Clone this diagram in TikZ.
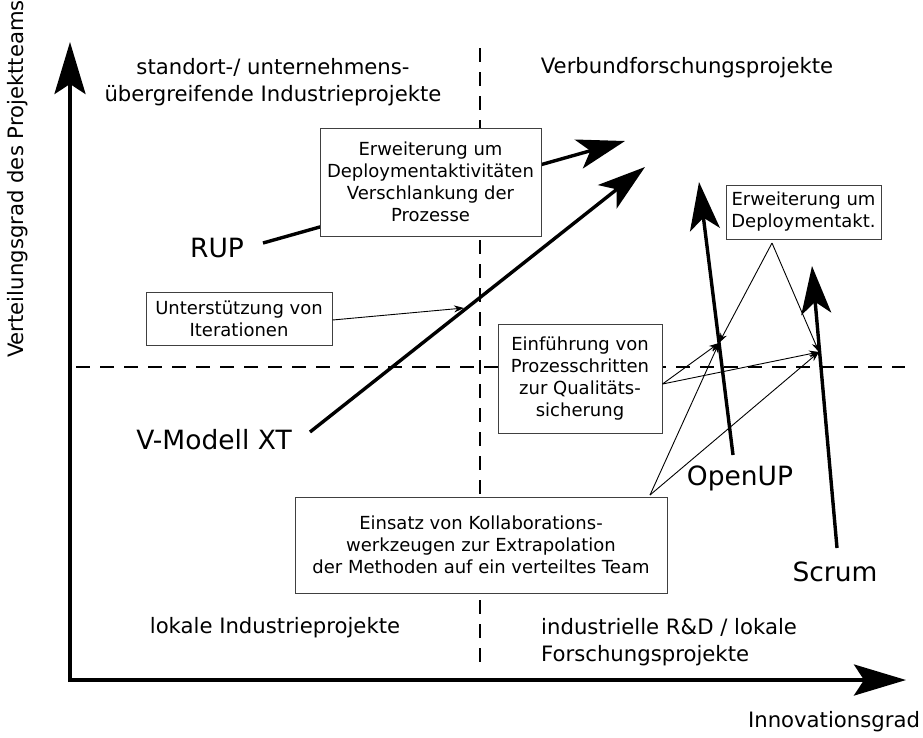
\documentclass[tikz,border=0pt]{standalone}
\usepackage{fontspec}
\setmainfont{DejaVu Sans}
\usetikzlibrary{arrows.meta}
\begin{document}
\begin{tikzpicture}[x=1pt,y=-1pt,
  quad/.style={inner sep=0pt, font=\fontsize{21.2}{27.5}\selectfont},
  method/.style={inner sep=0pt, font=\fontsize{26.5}{30}\selectfont},
  note/.style={draw=black!75, line width=1pt, fill=white, inner sep=0pt,
    align=center, font=\fontsize{18}{22}\selectfont},
  axis/.style={line width=3.8pt, -{Stealth[length=52pt,width=31pt,inset=10pt]}},
  trend/.style={line width=3.4pt, -{Stealth[length=48pt,width=30pt,inset=12pt]}},
  hint/.style={line width=0.9pt, -{Stealth[length=10pt,width=7pt]}},
  divider/.style={line width=1.4pt, dash pattern=on 14pt off 10pt}]
\useasboundingbox (0,0) rectangle (923,737);

% axes
\coordinate (origin) at (70,680);
\coordinate (ytip) at (70,42);
\coordinate (xtip) at (906,680);
\draw[axis] ([yshift=-2pt]origin) -- (ytip);
\draw[axis] ([xshift=-2pt]origin) -- (xtip);

% quadrant dividers
\coordinate (vtop) at (480,48);
\coordinate (vbot) at (480,668);
\coordinate (hleft) at (76,367);
\coordinate (hright) at (905,367);
\draw[divider] (vtop) -- (vbot);
\draw[divider] (hleft) -- (hright);

% axis and quadrant labels
\node[quad] (xlab) at (834,722) {Innovationsgrad};
\node[quad, rotate=90] (ylab) at (18,179) {Verteilungsgrad des Projektteams};
\node[quad, align=center] (q1) at (273,82) {standort-/ unternehmens-\\übergreifende Industrieprojekte};
\node[quad] (q2) at (687,68) {Verbundforschungsprojekte};
\node[quad] (q3) at (275,628) {lokale Industrieprojekte};
\node[quad, align=left, anchor=west] (q4) at (541,642) {industrielle R\&D / lokale\\Forschungsprojekte};

% process models and their trends
\node[method] (rup) at (217,248) {RUP};
\node[method] (vm) at (214,440) {V-Modell XT};
\node[method] (oup) at (740,478) {OpenUP};
\node[method] (scrum) at (835,572) {Scrum};

\coordinate (rupS) at (263,243);
\coordinate (rupT) at (625,141);
\coordinate (vmS) at (310,432);
\coordinate (vmT) at (645,167);
\coordinate (oupS) at (733,455);
\coordinate (oupT) at (699,182);
\coordinate (scrumS) at (837,548);
\coordinate (scrumT) at (812,266);
\draw[trend] (rupS) -- (rupT);
\draw[trend] (vmS) -- (vmT);
\draw[trend] (oupS) -- (oupT);
\draw[trend] (scrumS) -- (scrumT);

% annotations
\node[note, minimum width=221pt, minimum height=108pt] (n1) at (430.5,182)
  {Erweiterung um\\Deploymentaktivitäten\\Verschlankung der\\Prozesse};
\node[note, minimum width=186pt, minimum height=53pt] (n2) at (239,318.5)
  {Unterstützung von\\Iterationen};
\node[note, minimum width=164pt, minimum height=109pt] (n3) at (580,378.5)
  {Einführung von\\Prozesschritten\\zur Qualitäts-\\sicherung};
\node[note, minimum width=155pt, minimum height=54pt] (n4) at (803.5,212)
  {Erweiterung um\\Deploymentakt.};
\node[note, minimum width=372pt, minimum height=96pt] (n5) at (481,545)
  {Einsatz von Kollaborations-\\werkzeugen zur Extrapolation\\der Methoden auf ein verteiltes Team};

% annotation pointers
\coordinate (vmP) at (464,308);
\coordinate (oupP) at (719,343);
\coordinate (scrumP) at (819,352);
\coordinate (n4b) at (772,243);
\coordinate (n5c) at (650,495);
\draw[hint] (n2.east |- 0,320) -- (vmP);
\draw[hint] (n3.east |- 0,384) -- (oupP);
\draw[hint] (n3.east |- 0,384) -- (scrumP);
\draw[hint] (n4b) -- (oupP);
\draw[hint] (n4b) -- (scrumP);
\draw[hint] (n5c) -- (oupP);
\draw[hint] (n5c) -- (scrumP);
\end{tikzpicture}
\end{document}
